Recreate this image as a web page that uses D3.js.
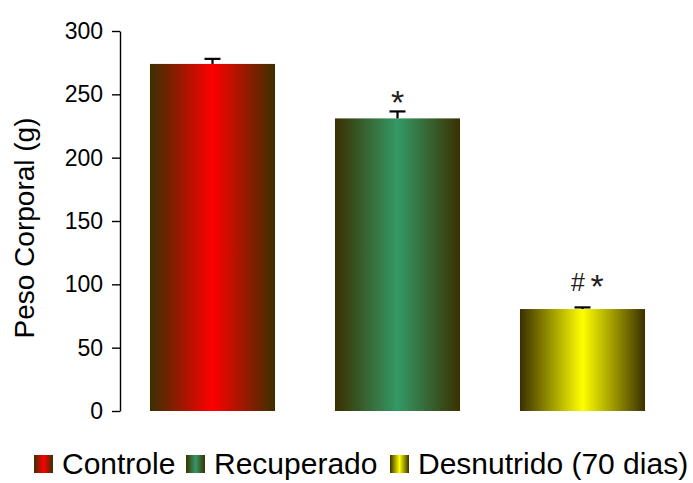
<!DOCTYPE html>
<html>
<head>
<meta charset="utf-8">
<script src="https://cdn.jsdelivr.net/npm/d3@7"></script>
<style>
  html, body { margin: 0; padding: 0; background: #fff; }
  svg { display: block; font-family: Arial, "Liberation Sans", sans-serif; }
</style>
</head>
<body>
<svg id="chart" width="693" height="483"></svg>
<script>
// Body weight per group (mean + upper error)
const groups = ["Controle", "Recuperado", "Desnutrido (70 dias)"];
const weights = [274, 231, 80.5];
const errors = [4, 5.5, 1.3];
// significance symbols drawn above each bar
const marks = [[], ["*"], ["#", "*"]];
const barColors = ["#ff0000", "#339966", "#ffff00"];
const yTicks = [0, 50, 100, 150, 200, 250, 300];

const edgeColor = "#3a3000";
const svg = d3.select("#chart");
const defs = svg.append("defs");

// horizontal "cylinder" shading: dark edges, bright centre
barColors.forEach((c, i) => {
  const g = defs.append("linearGradient")
    .attr("id", "grad" + i)
    .attr("x1", "0%").attr("x2", "100%").attr("y1", "0%").attr("y2", "0%");
  g.append("stop").attr("offset", "0%").attr("stop-color", edgeColor);
  g.append("stop").attr("offset", "50%").attr("stop-color", c);
  g.append("stop").attr("offset", "100%").attr("stop-color", edgeColor);
});

const plotLeft = 120, plotTop = 31, plotBottom = 411;

const y = d3.scaleLinear().domain([0, 300]).range([plotBottom, plotTop]);
const x = d3.scaleBand().domain(groups).range([plotLeft, 675])
  .paddingInner(0.324).paddingOuter(0.162);

// y axis
const yAxis = svg.append("g")
  .attr("transform", `translate(${plotLeft},0)`)
  .call(d3.axisLeft(y).tickValues(yTicks).tickSize(8).tickPadding(9).tickSizeOuter(0));
yAxis.select(".domain").attr("stroke", "#000").attr("stroke-width", 1.4);
yAxis.selectAll(".tick line").attr("stroke", "#000").attr("stroke-width", 1.4);
yAxis.selectAll(".tick text").attr("font-size", 23).attr("fill", "#000")
  .attr("font-family", "Arial, 'Liberation Sans', sans-serif");

// y axis title
svg.append("text")
  .attr("transform", `translate(34,${(plotTop + plotBottom) / 2 + 7}) rotate(-90)`)
  .attr("text-anchor", "middle")
  .attr("font-size", 28)
  .attr("fill", "#000")
  .text("Peso Corporal (g)");

// bars
svg.selectAll("rect.bar")
  .data(groups)
  .join("rect")
  .attr("class", "bar")
  .attr("x", d => x(d))
  .attr("width", x.bandwidth())
  .attr("y", (d, i) => y(weights[i]))
  .attr("height", (d, i) => y(0) - y(weights[i]))
  .attr("fill", (d, i) => `url(#grad${i})`);

// error bars (upper whisker + cap)
const cx = d => x(d) + x.bandwidth() / 2;
const capHalf = 8;
const eb = svg.selectAll("g.err").data(groups).join("g").attr("class", "err");
eb.append("line")
  .attr("x1", cx).attr("x2", cx)
  .attr("y1", (d, i) => y(weights[i]))
  .attr("y2", (d, i) => y(weights[i] + errors[i]))
  .attr("stroke", "#000").attr("stroke-width", 2.2);
eb.append("line")
  .attr("x1", d => cx(d) - capHalf)
  .attr("x2", d => cx(d) + capHalf)
  .attr("y1", (d, i) => y(weights[i] + errors[i]))
  .attr("y2", (d, i) => y(weights[i] + errors[i]))
  .attr("stroke", "#000").attr("stroke-width", 2.2);

// significance symbols
const markGap = [0, 13, 25];          // distance above the cap
const symStyle = {
  "*": { size: 34, dy: 0.45 },        // asterisk sits high, pull it down to centre
  "#": { size: 25, dy: 0.36 }
};
groups.forEach((g, i) => {
  const syms = marks[i];
  if (!syms.length) return;
  const yc = y(weights[i] + errors[i]) - markGap[i];
  const spacing = 19;
  const start = cx(g) - (syms.length - 1) * spacing / 2 + (syms.length > 1 ? 5 : 0);
  syms.forEach((s, k) => {
    const st = symStyle[s];
    svg.append("text")
      .attr("class", "mark")
      .attr("x", start + k * spacing)
      .attr("y", yc + st.size * st.dy)
      .attr("text-anchor", "middle")
      .attr("font-size", st.size)
      .attr("fill", "#222")
      .text(s);
  });
});

// legend
const legendX = [34, 186, 390];
const legend = svg.selectAll("g.legend").data(groups).join("g")
  .attr("class", "legend")
  .attr("transform", (d, i) => `translate(${legendX[i]},455)`);
legend.append("rect")
  .attr("width", 19).attr("height", 18)
  .attr("fill", (d, i) => `url(#grad${i})`);
legend.append("text")
  .attr("x", 28).attr("y", 19)
  .attr("font-size", 30)
  .attr("fill", "#000")
  .text(d => d);
</script>
</body>
</html>
